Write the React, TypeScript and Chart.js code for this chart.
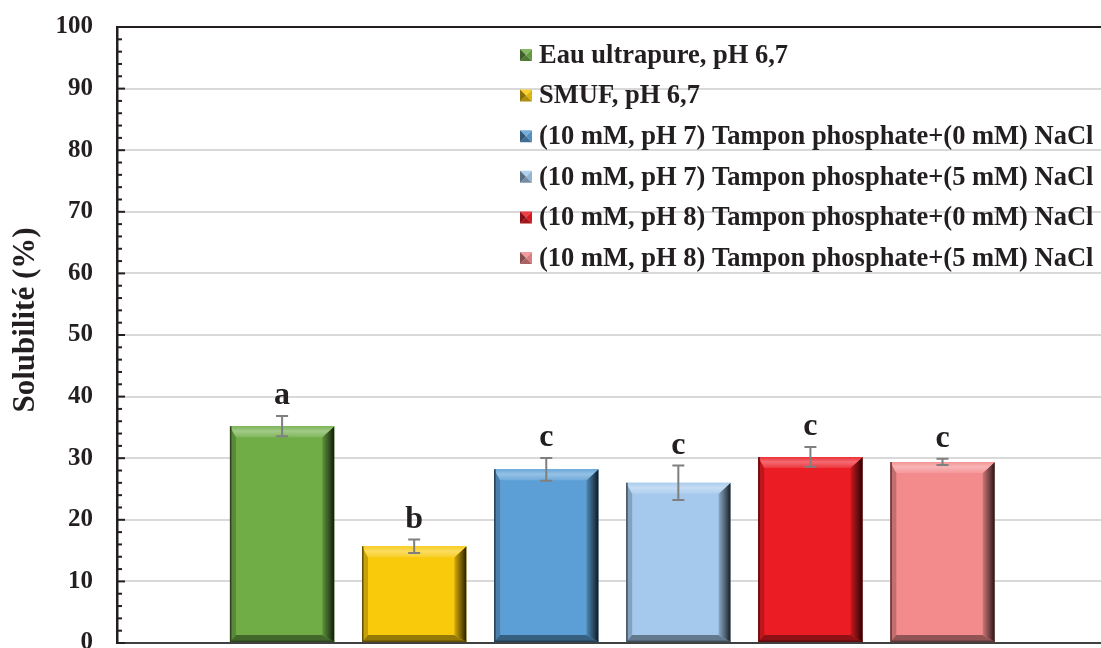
import React, { useEffect, useRef } from 'react';
import { Chart, registerables } from 'chart.js';

Chart.register(...registerables);

// ---- data ----
const categories = [
  'Eau ultrapure, pH 6,7',
  'SMUF, pH 6,7',
  '(10 mM, pH 7) Tampon phosphate+(0 mM) NaCl',
  '(10 mM, pH 7) Tampon phosphate+(5 mM) NaCl',
  '(10 mM, pH 8) Tampon phosphate+(0 mM) NaCl',
  '(10 mM, pH 8) Tampon phosphate+(5 mM) NaCl',
];
const solubility = [35.2, 15.7, 28.2, 26.0, 30.2, 29.4];
const errors = [1.65, 1.1, 1.85, 2.8, 1.6, 0.5];
const letters = ['a', 'b', 'c', 'c', 'c', 'c'];
const yMin = 0;
const yMax = 100;
const yStep = 10;
const yMinorStep = 2;
const yTitle = 'Solubilité (%)';

// ---- styles ----
const barColors = ['#70ad47', '#f9c90c', '#5c9fd6', '#a5c9ec', '#ec1c24', '#f38b8d'];
const textColor = '#231f20';
const FONT = '"Liberation Serif", "Times New Roman", serif';

function hexToRgb(hex: string) {
  const h = hex.replace('#', '');
  return [parseInt(h.slice(0, 2), 16), parseInt(h.slice(2, 4), 16), parseInt(h.slice(4, 6), 16)];
}
function mix(hex: string, target: [number, number, number], t: number) {
  const c = hexToRgb(hex);
  const r = c.map((v, i) => Math.round(v + (target[i] - v) * t));
  return `rgb(${r[0]},${r[1]},${r[2]})`;
}
const WHITE: [number, number, number] = [255, 255, 255];
const BLACK: [number, number, number] = [0, 0, 0];

function poly(ctx: CanvasRenderingContext2D, pts: number[][], fill: any) {
  ctx.beginPath();
  ctx.moveTo(pts[0][0], pts[0][1]);
  for (let i = 1; i < pts.length; i++) ctx.lineTo(pts[i][0], pts[i][1]);
  ctx.closePath();
  ctx.fillStyle = fill;
  ctx.fill();
}

const bevelPlugin = {
  id: 'bevelBars',
  afterDatasetsDraw(chart: any) {
    const ctx: CanvasRenderingContext2D = chart.ctx;
    const meta = chart.getDatasetMeta(0);
    const yScale = chart.scales.y;
    ctx.save();
    meta.data.forEach((el: any, i: number) => {
      const { x, y, base, width } = el.getProps(['x', 'y', 'base', 'width'], true);
      const l = x - width / 2;
      const r = x + width / 2;
      const t = Math.min(y, base);
      const b = Math.max(y, base);
      const c = barColors[i];
      const T = 11, R = 12, B = 7, L = 6;
      // left
      poly(ctx, [[l, t], [l + L, t + T], [l + L, b - B], [l, b]], mix(c, BLACK, 0.2));
      // bottom
      poly(ctx, [[l, b], [r, b], [r - R, b - B], [l + L, b - B]], mix(c, BLACK, 0.4));
      // right gradient
      const g = ctx.createLinearGradient(r - R, 0, r, 0);
      g.addColorStop(0, mix(c, BLACK, 0.15));
      g.addColorStop(0.6, mix(c, BLACK, 0.55));
      g.addColorStop(1, mix(c, BLACK, 0.85));
      poly(ctx, [[r, t], [r, b], [r - R, b - B], [r - R, t + T]], g);
      // top
      const gt = ctx.createLinearGradient(0, t, 0, t + T);
      gt.addColorStop(0, mix(c, WHITE, 0.08));
      gt.addColorStop(0.45, mix(c, WHITE, 0.35));
      gt.addColorStop(1, mix(c, WHITE, 0.12));
      poly(ctx, [[l, t], [r, t], [r - R, t + T], [l + L, t + T]], gt);
      // outline left / bottom
      ctx.strokeStyle = mix(c, BLACK, 0.6);
      ctx.lineWidth = 1.5;
      ctx.beginPath();
      ctx.moveTo(l + 0.75, t);
      ctx.lineTo(l + 0.75, b - 0.75);
      ctx.lineTo(r, b - 0.75);
      ctx.stroke();
    });

    // error bars + letters
    meta.data.forEach((el: any, i: number) => {
      const { x } = el.getProps(['x'], true);
      const v = solubility[i];
      const e = errors[i];
      const yTop = yScale.getPixelForValue(v + e);
      const yBot = yScale.getPixelForValue(v - e);
      ctx.strokeStyle = '#7f7f7f';
      ctx.lineWidth = 2;
      ctx.beginPath();
      ctx.moveTo(x, yTop);
      ctx.lineTo(x, yBot);
      ctx.moveTo(x - 6, yTop);
      ctx.lineTo(x + 6, yTop);
      ctx.moveTo(x - 6, yBot);
      ctx.lineTo(x + 6, yBot);
      ctx.stroke();
      ctx.fillStyle = textColor;
      ctx.font = `bold 32px ${FONT}`;
      ctx.textAlign = 'center';
      ctx.textBaseline = 'alphabetic';
      ctx.fillText(letters[i], x, yTop - 12);
    });
    ctx.restore();
  },
  afterDraw(chart: any) {
    const ctx: CanvasRenderingContext2D = chart.ctx;
    const area = chart.chartArea;
    const yScale = chart.scales.y;
    ctx.save();
    // top frame line
    ctx.strokeStyle = textColor;
    ctx.lineWidth = 2;
    ctx.beginPath();
    ctx.moveTo(area.left, area.top);
    ctx.lineTo(area.right, area.top);
    ctx.stroke();
    // inner ticks
    ctx.lineWidth = 2;
    for (let v = yMin; v <= yMax; v += yMinorStep) {
      const py = yScale.getPixelForValue(v);
      const len = v % yStep === 0 ? 8 : 5;
      ctx.beginPath();
      ctx.moveTo(area.left, py);
      ctx.lineTo(area.left + len, py);
      ctx.stroke();
    }
    // y title
    ctx.fillStyle = textColor;
    ctx.font = `bold 31px ${FONT}`;
    ctx.textAlign = 'center';
    ctx.textBaseline = 'middle';
    ctx.translate(26, (area.top + area.bottom) / 2 - 15);
    ctx.rotate(-Math.PI / 2);
    ctx.fillText(yTitle, 0, 0);
    ctx.restore();

    // legend
    ctx.save();
    const lx = area.left + 403;
    const ly0 = area.top + 28;
    const gap = 40.6;
    ctx.font = `bold 26.5px ${FONT}`;
    ctx.textAlign = 'left';
    ctx.textBaseline = 'middle';
    categories.forEach((label, i) => {
      const cy = ly0 + i * gap;
      const c = barColors[i];
      const s = 12;
      const x0 = lx, y0 = cy - s / 2, x1 = lx + s, y1 = cy + s / 2;
      const mx = (x0 + x1) / 2, my = (y0 + y1) / 2;
      poly(ctx, [[x0, y0], [x1, y0], [mx, my]], mix(c, WHITE, 0.15));
      poly(ctx, [[x1, y0], [x1, y1], [mx, my]], mix(c, BLACK, 0.1));
      poly(ctx, [[x0, y1], [x1, y1], [mx, my]], mix(c, BLACK, 0.3));
      poly(ctx, [[x0, y0], [x0, y1], [mx, my]], mix(c, BLACK, 0.45));
      ctx.fillStyle = textColor;
      ctx.fillText(label, lx + 19, cy + 1);
    });
    ctx.restore();
  },
};

export default function App() {
  const ref = useRef<HTMLCanvasElement>(null);
  useEffect(() => {
    if (!ref.current) return;
    const chart = new Chart(ref.current, {
      type: 'bar',
      data: {
        datasets: [
          {
            label: 'Solubilité',
            data: solubility.map((v, i) => ({ x: i + 1, y: v })),
            backgroundColor: barColors,
            borderWidth: 0,
            categoryPercentage: 1,
            barPercentage: 0.79,
          },
        ],
      },
      options: {
        animation: false,
        responsive: false,
        maintainAspectRatio: false,
        layout: { padding: 0 },
        plugins: { legend: { display: false }, tooltip: { enabled: false } },
        scales: {
          x: {
            type: 'linear',
            offset: false,
            min: -0.25,
            max: 7.2,
            grid: { display: false, drawTicks: false },
            ticks: { display: false },
            border: { display: true, color: '#404040', width: 2 },
          },
          y: {
            min: yMin,
            max: yMax,
            afterFit: (scale: any) => {
              scale.width = 117;
            },
            ticks: {
              stepSize: yStep,
              padding: 24,
              color: textColor,
              font: { family: FONT, size: 25, weight: 'bold' },
            },
            grid: { color: '#d9d9d9', lineWidth: 2, drawTicks: false },
            border: { display: true, color: textColor, width: 2.5 },
          },
        },
      },
      plugins: [bevelPlugin],
    } as any);
    return () => chart.destroy();
  }, []);
  return (
    <div style={{ position: 'fixed', left: 0, top: 0, width: 1101, height: 648, overflow: 'hidden', background: '#fff' }}>
      <canvas ref={ref} width={1101} height={694} style={{ display: 'block', marginTop: -12 }} />
    </div>
  );
}
